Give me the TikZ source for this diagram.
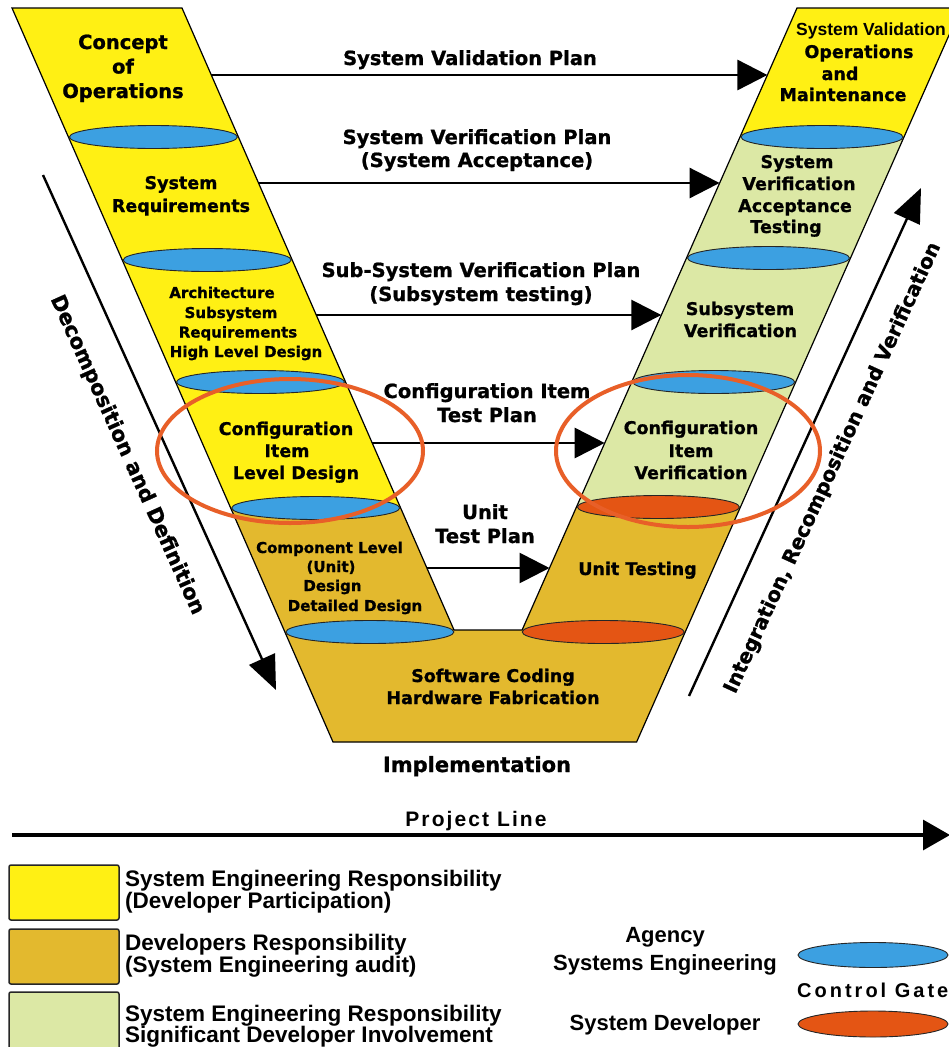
\documentclass[tikz,border=0pt]{standalone}
\usepackage{fontspec}
\setmainfont{DejaVu Sans}[BoldFeatures={FakeBold=1}]
\newfontfamily\libfont{Liberation Sans}
\newfontfamily\libspaced{Liberation Sans}[LetterSpace=10]
\newfontfamily\libgate{Liberation Sans}[LetterSpace=15]
\usetikzlibrary{arrows.meta}
\definecolor{vyellow}{RGB}{255,240,20}
\definecolor{vgold}{RGB}{227,185,46}
\definecolor{vgreen}{RGB}{220,232,165}
\definecolor{vblue}{RGB}{60,160,225}
\definecolor{vorange}{RGB}{228,85,20}
\definecolor{vring}{RGB}{232,95,40}
\tikzset{
  armline/.style={draw=black, line width=1.2pt, line join=miter},
  gateblue/.style={fill=vblue, draw=black!85, line width=0.9pt},
  gateorange/.style={fill=vorange, draw=black!85, line width=0.9pt},
  ring/.style={draw=vring, line width=4pt},
  plan/.style={line width=2.8pt, -{Triangle[length=30pt,width=30pt]}},
  flow/.style={line width=2.4pt, -{Triangle[length=34pt,width=28pt]}},
  txt/.style={inner sep=0pt, anchor=base, text=black},
  big/.style={txt, font=\bfseries\fontsize{19.5}{24}\selectfont},
  arm/.style={txt, font=\bfseries\fontsize{17.5}{22}\selectfont},
  small/.style={txt, font=\bfseries\fontsize{15}{19}\selectfont},
  lbl/.style={txt, font=\bfseries\fontsize{19.5}{24}\selectfont},
  side/.style={inner sep=0pt, text=black, font=\bfseries\fontsize{20}{24}\selectfont},
  leg/.style={inner sep=0pt, anchor=base west, text=black, font=\libfont\bfseries\fontsize{22.5}{22}\selectfont},
  legc/.style={txt, font=\libfont\bfseries\fontsize{22}{22}\selectfont},
  legbox/.style={draw=black!85, line width=1.5pt, rounded corners=2pt},
}
\begin{document}
\begin{tikzpicture}[x=1pt,y=-1pt]
\useasboundingbox (0,0) rectangle (948,1047);
\fill[white] (0,0) rectangle (948,1047);

% ---- coloured regions of the V
\fill[vyellow] (12,8) -- (182,8) -- (400.65,508) -- (230.65,508) -- cycle;
\fill[vgold] (230.65,508) -- (400.65,508) -- (454,630) -- (522.1,630) -- (576.4,507)
  -- (740.4,507) -- (636.6,742) -- (333,742) -- cycle;
\fill[vgreen] (740,137) -- (904,137) -- (740.4,507) -- (576.4,507) -- cycle;
\fill[vyellow] (797,8) -- (961,8) -- (904,137) -- (740,137) -- cycle;
\draw[armline] (12,8) -- (182,8) -- (454,630) -- (522.1,630) -- (797,8) -- (961,8)
  -- (636.6,742) -- (333,742) -- cycle;

% ---- control gates
\draw[gateblue] (153.4,137) ellipse [x radius=84pt, y radius=11.5pt];
\draw[gateblue] (207.2,260) ellipse [x radius=84pt, y radius=11.5pt];
\draw[gateblue] (260.5,382) ellipse [x radius=84pt, y radius=11.5pt];
\draw[gateblue] (315.7,508) ellipse [x radius=84pt, y radius=11.5pt];
\draw[gateblue] (369.9,632) ellipse [x radius=84pt, y radius=11.5pt];
\draw[gateblue] (822,137) ellipse [x radius=81pt, y radius=11.5pt];
\draw[gateblue] (768.5,258) ellipse [x radius=81pt, y radius=11.5pt];
\draw[gateblue] (713.7,382) ellipse [x radius=81pt, y radius=11.5pt];
\draw[gateorange] (658.4,507) ellipse [x radius=81pt, y radius=11.5pt];
\draw[gateorange] (603.2,632) ellipse [x radius=81pt, y radius=11.5pt];

% ---- connector end points on the arm edges
\coordinate (p1s) at (211.3,75);  \coordinate (p1e) at (767.4,75);
\coordinate (p2s) at (258.5,183); \coordinate (p2e) at (719.6,183);
\coordinate (p3s) at (316.2,315); \coordinate (p3e) at (661.3,315);
\coordinate (p4s) at (372.2,443); \coordinate (p4e) at (604.7,443);
\coordinate (p5s) at (426.9,568); \coordinate (p5e) at (549.5,568);
\coordinate (ds) at (43,175);  \coordinate (de) at (276,690);
\coordinate (is) at (689,696); \coordinate (ie) at (921,188);
\coordinate (ls) at (12,835);  \coordinate (le) at (950,835);

\draw[plan] (p1s) -- (p1e);
\draw[plan] (p2s) -- (p2e);
\draw[plan] (p3s) -- (p3e);
\draw[plan] (p4s) -- (p4e);
\draw[plan] (p5s) -- (p5e);
\draw[flow] (ds) -- (de);
\draw[flow] (is) -- (ie);
\draw[line width=3.2pt, -{Triangle[length=27pt,width=30pt]}] (ls) -- (le);

% ---- highlight rings
\draw[ring] (290,451) ellipse [x radius=133pt, y radius=72pt];
\draw[ring] (688,451) ellipse [x radius=132pt, y radius=76pt];

% ---- left arm texts
\node[big] (co1) at (123,49) {Concept};
\node[big] (co2) at (123,73.5) {of};
\node[big] (co3) at (123,98) {Operations};
\node[arm] (sr1) at (181,189) {System};
\node[arm] (sr2) at (181,212) {Requirements};
\node[small] (ar1) at (222,298) {Architecture};
\node[small] (ar2) at (231,318) {Subsystem};
\node[small] (ar3) at (238,337.5) {Requirements};
\node[small] (ar4) at (246,357) {High Level Design};
\node[arm] (ci1) at (286,435) {Configuration};
\node[arm] (ci2) at (287,457) {Item};
\node[arm] (ci3) at (296,479) {Level Design};
\node[small] (cl1) at (329.5,553) {Component Level};
\node[small] (cl2) at (331,572) {(Unit)};
\node[small] (cl3) at (332.5,591) {Design};
\node[small] (cl4) at (355,611) {Detailed Design};
\node[arm] (sc1) at (493,682) {Software Coding};
\node[arm] (sc2) at (493,704) {Hardware Fabrication};
\node[txt, font=\bfseries\fontsize{21}{24}\selectfont] (impl) at (477,772) {Implementation};

% ---- right arm texts
\node[txt, font=\libfont\bfseries\fontsize{17.5}{22}\selectfont] (sv0) at (871,35) {System Validation};
\node[arm] (sv1) at (859,58) {Operations};
\node[arm] (sv2) at (840,80) {and};
\node[arm] (sv3) at (843,101) {Maintenance};
\node[arm] (va1) at (797,168) {System};
\node[arm] (va2) at (799,190) {Verification};
\node[arm] (va3) at (795,212) {Acceptance};
\node[arm] (va4) at (786,233) {Testing};
\node[arm] (ss1) at (740,315) {Subsystem};
\node[arm] (ss2) at (740.5,337) {Verification};
\node[arm] (cv1) at (691,434) {Configuration};
\node[arm] (cv2) at (691,457) {Item};
\node[arm] (cv3) at (691,479) {Verification};
\node[arm] (ut) at (637.5,575) {Unit Testing};

% ---- connector labels
\node[lbl] (l1) at (470,65) {System Validation Plan};
\node[lbl] (l2a) at (477,144) {System Verification Plan};
\node[lbl] (l2b) at (477,167) {(System Acceptance)};
\node[lbl] (l3a) at (481,277) {Sub-System Verification Plan};
\node[lbl] (l3b) at (481,301) {(Subsystem testing)};
\node[lbl] (l4a) at (487,398) {Configuration Item};
\node[lbl] (l4b) at (487,422) {Test Plan};
\node[lbl] (l5a) at (485,519) {Unit};
\node[lbl] (l5b) at (485,543) {Test Plan};

% ---- side labels
\node[side, rotate=-65.75, font=\bfseries\fontsize{20.8}{24}\selectfont] (dec) at (127,455) {Decomposition and Definition};
\node[side, rotate=65.4] (irv) at (833,468) {Integration, Recomposition and Verification};
\node[txt, font=\libspaced\bfseries\fontsize{21}{24}\selectfont] (pl) at (476,826) {Project Line};

% ---- legend
\draw[legbox, fill=vyellow] (9,865) rectangle (119,920);
\draw[legbox, fill=vgold] (9,929) rectangle (119,984);
\draw[legbox, fill=vgreen] (9,992) rectangle (119,1062);
\node[leg] (g1a) at (125,886) {System Engineering Responsibility};
\node[leg] (g1b) at (125,908) {(Developer Participation)};
\node[leg] (g2a) at (125,950) {Developers Responsibility};
\node[leg] (g2b) at (125,972) {(System Engineering audit)};
\node[leg] (g3a) at (125,1021) {System Engineering Responsibility};
\node[leg] (g3b) at (125,1042) {Significant Developer Involvement};
\node[legc] (ag1) at (665,942) {Agency};
\node[legc] (ag2) at (665,970) {Systems Engineering};
\node[legc] (sd) at (665,1030) {System Developer};
\draw[gateblue] (873,955) ellipse [x radius=75pt, y radius=12.5pt];
\draw[gateorange] (873,1024) ellipse [x radius=75pt, y radius=13pt];
\node[inner sep=0pt, anchor=base west, font=\libgate\bfseries\fontsize{20}{24}\selectfont] (cg) at (797,997) {Control Gate};
\end{tikzpicture}
\end{document}
